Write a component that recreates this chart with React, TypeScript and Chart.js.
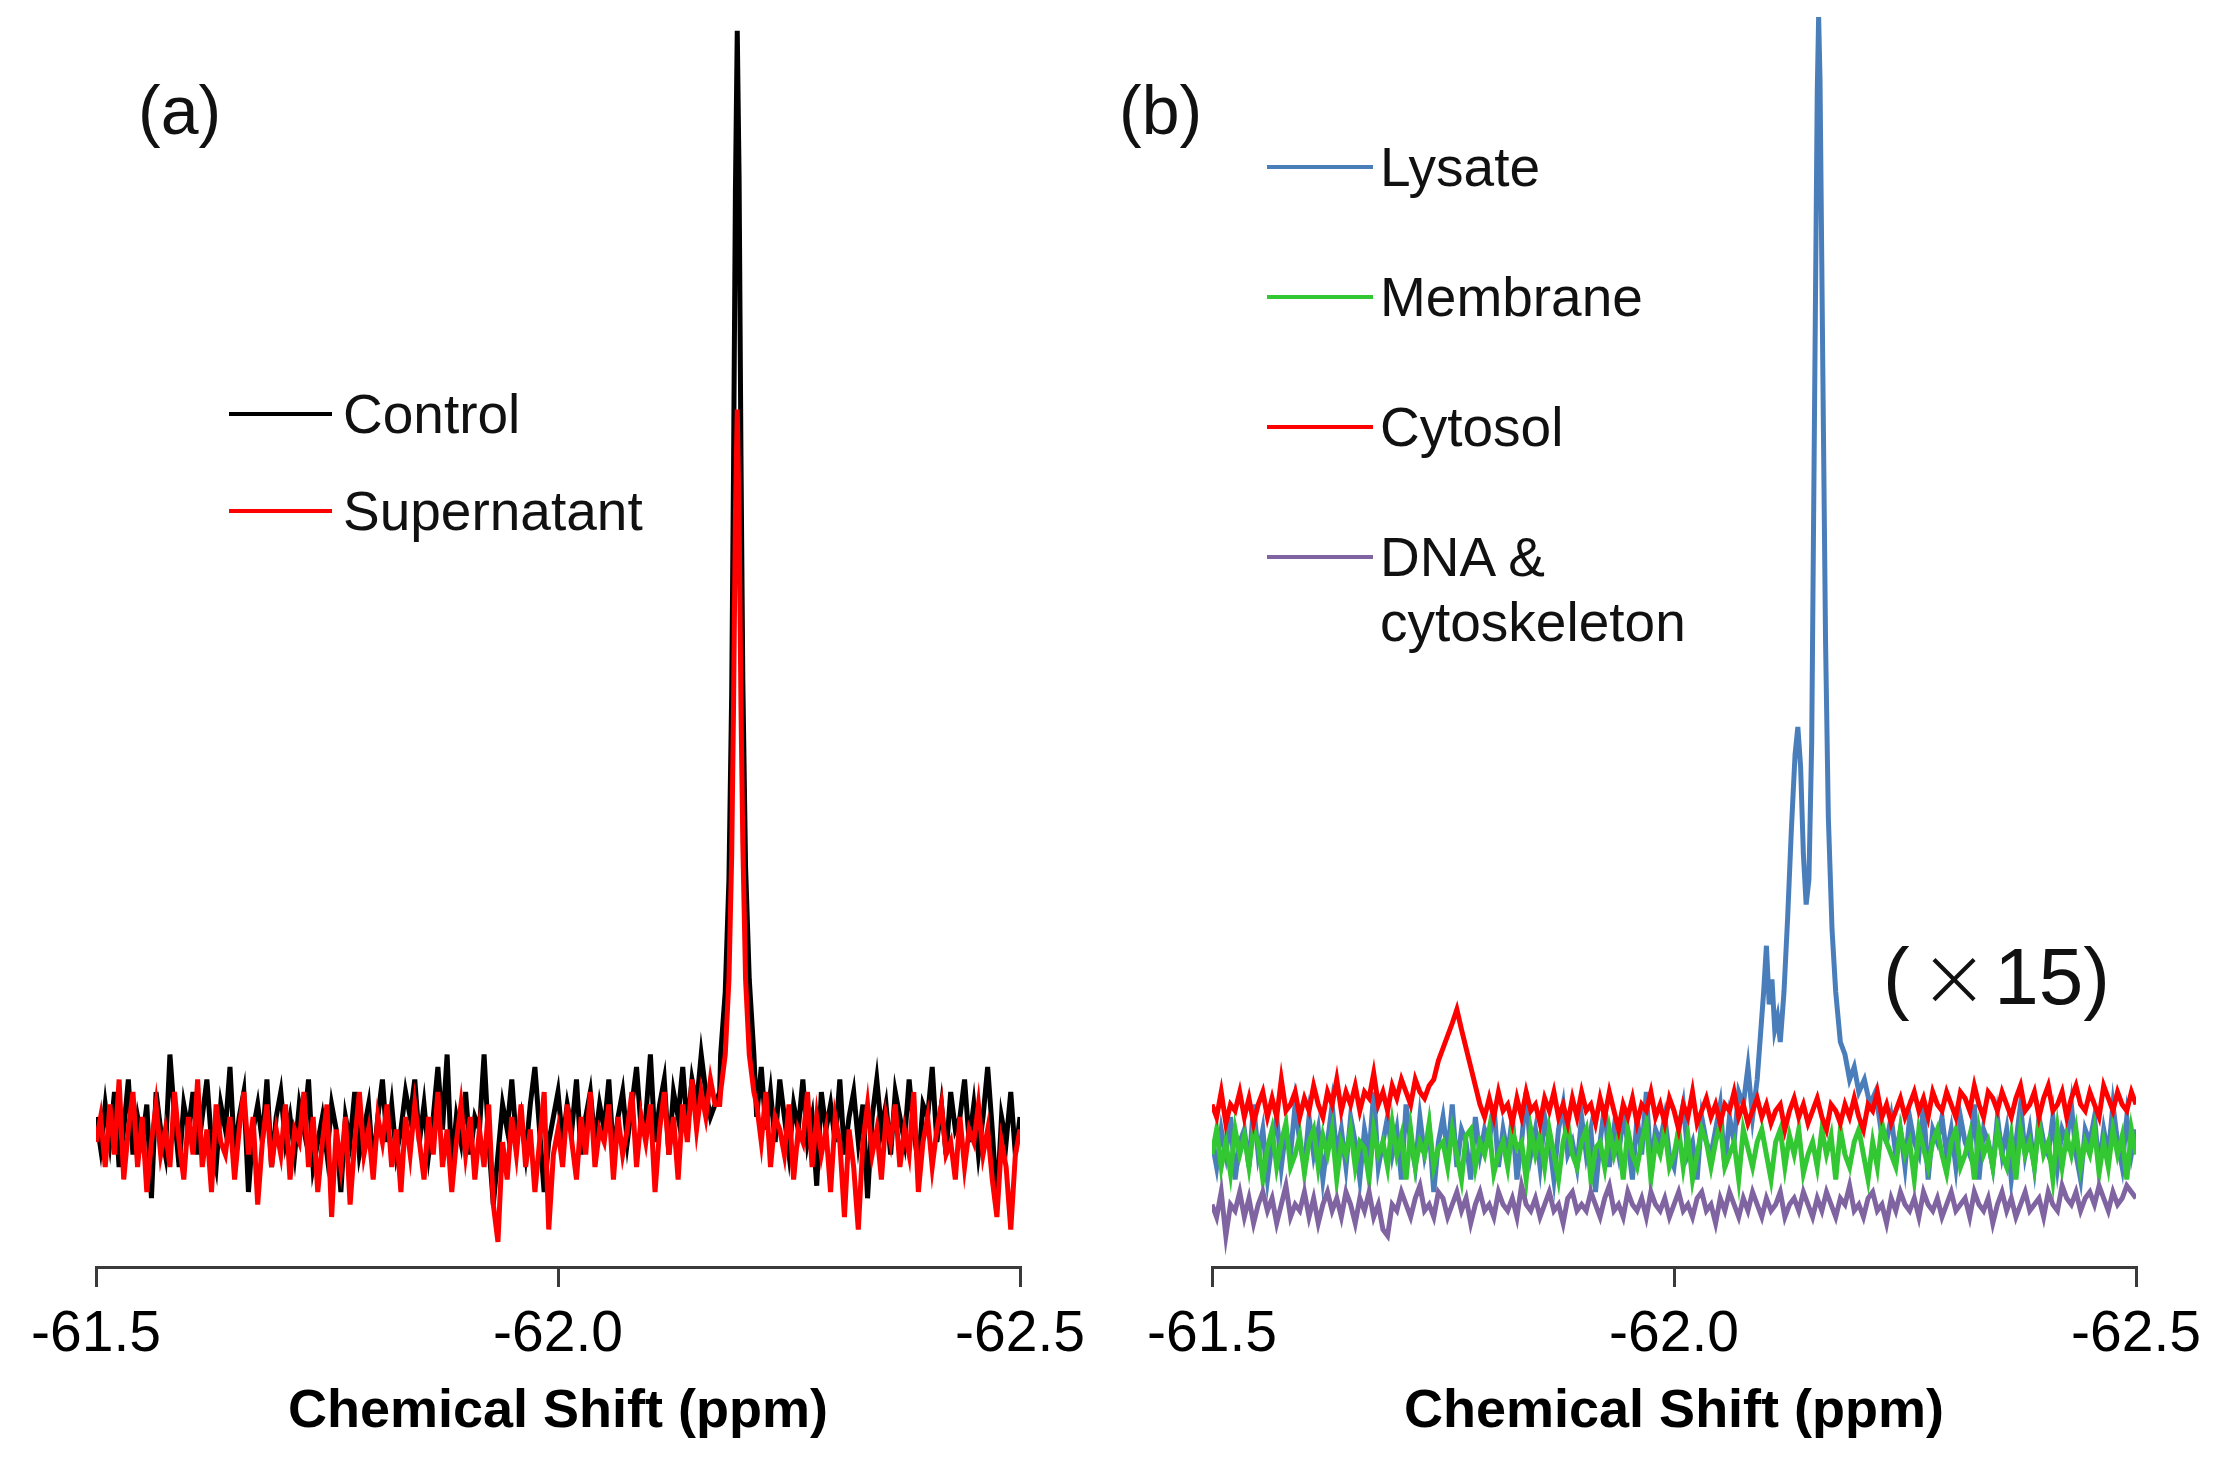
import React, { useEffect, useRef } from "react";
import { Chart, registerables } from "chart.js";
Chart.register(...registerables);

const FONT = "'Liberation Sans', Arial, sans-serif";

// x axis
const xTicks = [-61.5, -62.0, -62.5];
const gridStartPpm = -61.5;
const gridStepPpm = -0.005;

// ---------- Panel (a) ----------
const controlNoise = [
  12, 9.5, 13, 10, 14, 8, 11, 15, 9, 12,
  10, 13, 5.5, 14, 11, 9, 17, 12, 8, 13,
  11, 14, 9, 12, 15, 10, 8, 13, 11, 16,
  9, 12, 14, 6, 11, 13, 10, 15, 8, 12,
  14, 10, 12, 9, 13, 11, 15, 8, 10, 12,
  9, 13, 11, 6, 12, 10, 14, 9, 11, 13,
  8, 12, 15, 10, 13, 9, 11, 14, 12, 15,
  10, 13, 9, 12, 16, 11, 17, 8, 12, 10,
  14, 9, 12, 11, 17, 10, 5, 9, 13, 11,
  15, 10, 12, 9, 13, 16, 11, 6, 10, 12,
  14, 10, 13, 11, 15, 9, 12, 14, 10, 13,
  11, 15, 9, 12, 14, 10, 13, 16, 11, 12,
  17, 10, 13, 15, 9, 14, 12, 16, 11, 15,
  13, 17, 14, 12, 13, 14, 16, 18, 20, 18,
  16, 14, 13, 12, 16, 11, 14, 10, 15, 12,
  9, 13, 11, 15, 10, 12, 6.5, 14, 11, 13,
  10, 15, 9, 12, 14, 10, 13, 5.5, 12, 15,
  11, 13, 9, 14, 12, 10, 15, 11, 8, 13,
  12, 16, 10, 13, 9, 14, 11, 12, 15, 10,
  13, 9, 12, 16, 11, 5, 12, 10, 14, 9,
  12,
];
const supernatantNoise = [
  10, 12, 8, 13, 9, 15, 7, 11, 14, 8,
  12, 6, 10, 13, 9, 11, 8, 14, 10, 7,
  12, 9, 15, 8, 11, 6, 13, 10, 9, 12,
  7, 11, 14, 9, 12, 5, 10, 13, 8, 11,
  9, 13, 7, 11, 10, 14, 8, 12, 6, 10,
  13, 4, 11, 8, 12, 5, 10, 14, 9, 11,
  7, 12, 10, 13, 8, 11, 6, 12, 9, 13,
  10, 7, 12, 9, 14, 8, 11, 6, 10, 13,
  9, 12, 7, 11, 8, 13, 5, 2, 10, 7,
  12, 9, 13, 8, 11, 6, 10, 14, 3, 9,
  11, 8, 13, 10, 7, 12, 9, 14, 8, 11,
  10, 13, 7, 12, 9, 11, 14, 8, 12, 10,
  13, 6, 11, 14, 9, 12, 7, 13, 10, 15,
  11, 14, 12, 15, 13, 13, 16, 18, 20, 18,
  16, 14, 12, 13, 10, 14, 8, 12, 11, 9,
  13, 7, 11, 10, 14, 8, 12, 9, 11, 6,
  12, 10, 4, 11, 8, 3, 10, 13, 9, 11,
  7, 12, 10, 13, 8, 11, 9, 14, 6, 10,
  12, 8, 11, 13, 9, 10, 7, 12, 8, 11,
  10, 13, 9, 11, 7, 4, 10, 8, 3, 9,
  11,
];
const peakPpmA = [-62.176, -62.181, -62.185, -62.188, -62.19, -62.192, -62.194, -62.196, -62.198, -62.2, -62.203, -62.207, -62.212];
const controlPeakVal = [17, 22, 31, 46, 64, 86, 98.9, 87, 65, 47, 32, 23, 17];
const supernatantPeakVal = [14, 17, 23, 33, 45, 60, 68.6, 60, 45, 34, 23, 17, 14];

// ---------- Panel (b) ----------
const lysateNoise = [
  10, 8, 11, 9, 12, 7, 10, 11, 8, 13,
  9, 11, 7, 10, 12, 8, 11, 9, 13, 10,
  8, 12, 9, 11, 7, 10, 13, 9, 11, 8,
  12, 10, 7, 11, 9, 14, 8, 10, 12, 9,
  11, 7, 13, 10, 8, 12, 9, 11, 6, 10,
  12, 9, 13, 8, 11, 10, 7, 12, 9, 11,
  10, 13, 8, 11, 9, 12, 7, 10, 14, 9,
  11, 8, 12, 10, 7, 11, 13, 9, 10, 8,
  12, 9, 11, 6, 10, 13, 8, 11, 9, 12,
  10, 7, 12, 9, 14, 8, 11, 10, 12, 9,
  8, 11, 13, 9, 10, 7, 12, 10, 9, 11,
  13, 8, 12, 10, 14, 12, 11, 13, 10, 12,
  11, 13, 10, 12, 11, 14, 12, 11, 13, 12,
  10, 12, 11, 13, 10, 12, 11, 10, 12, 11,
  12, 10, 11, 13, 10, 11, 10, 12, 9, 11,
  8, 12, 10, 9, 13, 7, 11, 10, 12, 9,
  11, 8, 12, 10, 9, 13, 7, 11, 10, 8,
  12, 9, 11, 7, 10, 13, 9, 11, 8, 12,
  10, 9, 12, 8, 11, 10, 13, 9, 7, 11,
  10, 12, 8, 11, 9, 13, 10, 8, 12, 9,
  11,
];
const lysatePeakPpm = [
  -62.075, -62.08, -62.085, -62.09, -62.094, -62.097, -62.1, -62.103, -62.106, -62.109,
  -62.112, -62.115, -62.119, -62.123, -62.127, -62.131, -62.134, -62.137, -62.14, -62.143,
  -62.146, -62.149, -62.152, -62.155, -62.1565, -62.158, -62.161, -62.164, -62.167, -62.171,
  -62.175, -62.18, -62.185, -62.19, -62.195, -62.2, -62.206, -62.212, -62.218, -62.224, -62.23,
];
const lysatePeakVal = [
  13, 16, 12, 15, 19, 22, 25.7, 21, 23, 19,
  20, 18, 22, 28, 35, 41, 43.2, 40, 33, 29,
  31, 42, 68, 94, 100, 95, 72, 50, 36, 27,
  22, 18, 17, 15, 16, 14, 15, 13, 14, 11, 10,
];
const membraneNoise = [
  9, 11, 8, 10, 7.5, 11, 9, 10.5, 8, 11,
  10, 7, 9.5, 11, 8, 10, 11.5, 8, 9, 10.5,
  7.5, 10, 11, 8, 10.5, 9, 11, 7, 10, 9,
  11, 8, 10, 9.5, 7, 11, 9, 10, 8, 11.5,
  9, 10.5, 7, 11, 8, 10, 9, 11.5, 8, 9.5,
  10, 8, 11, 9, 7, 10.5, 11, 8, 10, 9,
  11, 7.5, 9, 10, 8, 11, 9.5, 10, 7, 11,
  9, 10.5, 8, 11, 9, 7, 10, 11.5, 9, 8,
  10, 11, 7, 9.5, 10, 8, 11, 9, 10.5, 7,
  11, 9, 8, 10, 11.5, 7, 10, 9, 11, 8,
  9, 11, 8, 10.5, 7, 9, 11, 10, 8, 10,
  11.5, 8, 9, 10, 7, 11, 9.5, 8, 10, 11,
  9, 7, 10, 11, 8, 10.5, 9, 11, 7.5, 9,
  10, 8, 11, 9, 10.5, 7, 11, 9, 8, 10,
  11, 9, 7, 10, 8, 11.5, 10, 9, 8, 11,
  9, 10, 7, 11, 9.5, 8, 10, 11, 9, 7.5,
  10, 11, 8, 9, 10.5, 7, 11, 9, 10, 8,
  11, 9, 8, 10.5, 7, 11, 9, 10, 8, 11.5,
  9, 10, 7, 11, 8, 10.5, 9, 11, 8, 10,
  9, 11, 7.5, 10, 8, 11, 9, 10.5, 7, 11,
  9,
];
const cytosolNoise = [
  13, 12, 14, 11.5, 13, 12.5, 14, 12, 13.5, 11.5,
  13, 14, 12, 13.5, 12, 15, 12.5, 13, 14, 12,
  13.5, 12.5, 14.5, 13, 12, 14, 13, 15, 12.5, 14,
  13, 14.5, 12.5, 14, 13.5, 15.5, 13, 14, 12.5, 14.5,
  13.5, 15, 14, 13, 15, 14, 13.5, 14.5, 15, 16.5,
  17.5, 18.5, 19.5, 20.6, 19, 17.5, 16, 14.5, 13, 12,
  13.5, 12, 14, 12.5, 13, 11.5, 13.5, 12, 14, 12.5,
  13, 11.5, 13.5, 12.5, 14, 12, 13, 11.5, 13.5, 12,
  14, 12.5, 13, 11.5, 13.5, 12, 14, 12.5, 11, 13,
  12, 13.5, 11.5, 13, 12.5, 14, 12, 13, 11.5, 13.5,
  12.5, 11, 13, 12, 14, 11.5, 12.5, 13.5, 12, 13,
  11.5, 13, 12.5, 14, 12, 13, 11.5, 12.5, 13.5, 12,
  13, 11.5, 12.5, 13, 11, 12.5, 13.5, 12, 13, 11.5,
  12.5, 13.5, 12, 11, 13, 12.5, 11.5, 13, 12, 13.5,
  12, 11, 13, 12.5, 14, 12, 13, 11.5, 12.5, 13.5,
  12, 13, 14, 12.5, 13.5, 12, 14, 13, 12.5, 14,
  13, 12, 14, 13.5, 12.5, 14.5, 13, 12, 14, 13.5,
  12.5, 14, 13, 12, 13.5, 14.5, 12.5, 13, 14, 12,
  13.5, 14.5, 12.5, 13, 14, 12, 13.5, 14.5, 13, 12.5,
  14, 13, 12, 14.5, 13.5, 12.5, 14, 13, 12.5, 14,
  13,
];
const dnaNoise = [
  5, 4, 6, 2.5, 5, 4.5, 6, 4, 5.5, 3.5,
  5, 6, 4.5, 5.5, 3.5, 5, 6.5, 4, 5, 4.5,
  6, 4, 5.5, 3.5, 5, 6, 4.5, 5.5, 4, 6,
  5, 3.5, 5.5, 4.5, 6, 4, 5, 3, 2.5, 5,
  4.5, 6, 5, 4, 5.5, 6.5, 4.5, 5, 4, 6,
  5.5, 4, 5, 6, 4.5, 5.5, 3.5, 5, 6, 4.5,
  5, 4, 6, 5, 4.5, 5.5, 4, 6.5, 5, 4.5,
  5.5, 4, 5, 6, 4.5, 5, 3.5, 5.5, 6, 4.5,
  5, 4.5, 6, 5, 4, 5.5, 6.5, 4.5, 5, 4,
  6, 5, 4.5, 5.5, 4, 6, 5, 4.5, 5.5, 4,
  5, 6, 4.5, 5, 4, 5.5, 6, 4.5, 5, 3.5,
  5.5, 4.5, 6, 5, 4, 5.5, 4.5, 6, 5, 4,
  5.5, 4.5, 5, 6, 4, 5, 5.5, 4.5, 6, 5,
  4, 5.5, 4.5, 6, 5, 4, 5.5, 5, 6.5, 4.5,
  5, 4, 5.5, 6, 4.5, 5, 3.5, 5.5, 4.5, 6,
  5, 4.5, 5.5, 4, 6, 5, 4.5, 5.5, 4, 5,
  6, 4.5, 5, 5.5, 4, 6, 5, 4.5, 5.5, 3.5,
  5, 6, 4.5, 5.5, 4, 5, 6, 4.5, 5, 5.5,
  4, 6, 5, 4.5, 6.5, 5.5, 5, 6, 4.5, 5.5,
  6, 5, 6.5, 5.5, 4.5, 6, 5, 5.5, 6.5, 6,
  5.5,
];

type Pt = { x: number; y: number };
function buildSeries(noise: number[], peakPpm: number[] = [], peakVal: number[] = []): Pt[] {
  const pts = noise.map((v, i) => ({ x: +(gridStartPpm + gridStepPpm * i).toFixed(4), y: v }));
  if (!peakPpm.length) return pts;
  const hi = Math.max(...peakPpm);
  const lo = Math.min(...peakPpm);
  const kept = pts.filter((p) => p.x > hi || p.x < lo);
  const peak = peakPpm.map((x, i) => ({ x, y: peakVal[i] }));
  return [...kept, ...peak].sort((a, b) => b.x - a.x);
}

type Series = { label: string; data: Pt[]; color: string; order: number };

function SpectrumPanel(props: { left: number; width: number; padLeft: number; padRight: number; series: Series[] }) {
  const ref = useRef<HTMLCanvasElement | null>(null);
  useEffect(() => {
    const chart = new Chart(ref.current as HTMLCanvasElement, {
      type: "line",
      data: {
        datasets: props.series.map((s) => ({
          label: s.label,
          data: s.data,
          borderColor: s.color,
          backgroundColor: s.color,
          borderWidth: 5,
          borderJoinStyle: "miter",
          pointRadius: 0,
          tension: 0,
          fill: false,
          order: s.order,
        })),
      },
      options: {
        responsive: false,
        animation: false,
        events: [],
        layout: { padding: { left: props.padLeft, right: props.padRight, top: 17, bottom: 0 } },
        plugins: { legend: { display: false }, tooltip: { enabled: false } },
        scales: {
          x: {
            type: "linear",
            min: -62.5,
            max: -61.5,
            reverse: true,
            afterBuildTicks: (s: any) => {
              s.ticks = xTicks.map((v) => ({ value: v }));
            },
            afterFit: (s: any) => {
              s.height = 195;
            },
            ticks: {
              autoSkip: false,
              maxRotation: 0,
              padding: 14,
              color: "#000",
              font: { family: FONT, size: 57 },
              callback: (v: any) => Number(v).toFixed(1),
            },
            grid: { drawOnChartArea: false, drawTicks: true, tickLength: 20, color: "#3a3a3a", lineWidth: 3 },
            border: { display: true, color: "#3a3a3a", width: 3 },
            title: {
              display: true,
              text: "Chemical Shift (ppm)",
              color: "#000",
              font: { family: FONT, size: 54, weight: "bold" },
              padding: { top: 0, bottom: 17 },
            },
          },
          y: { display: false, min: 0, max: 100 },
        },
      } as any,
    });
    return () => chart.destroy();
  }, []);
  return (
    <canvas
      ref={ref}
      width={props.width}
      height={1462}
      style={{ position: "absolute", left: props.left, top: 0, width: props.width, height: 1462 }}
    />
  );
}

function Text(props: { x: number; cy: number; size: number; children: any; style?: any }) {
  return (
    <div
      style={{
        position: "absolute",
        left: props.x,
        top: props.cy - 0.5 * props.size,
        fontSize: props.size,
        lineHeight: 1,
        whiteSpace: "nowrap",
        color: "#111",
        fontFamily: FONT,
        ...(props.style || {}),
      }}
    >
      {props.children}
    </div>
  );
}

function LegendLine(props: { x: number; cy: number; w: number; color: string; t: number }) {
  return (
    <div
      style={{
        position: "absolute",
        left: props.x,
        top: props.cy - props.t / 2,
        width: props.w,
        height: props.t,
        background: props.color,
      }}
    />
  );
}

const COLORS = {
  control: "#000000",
  supernatant: "#FF0000",
  lysate: "#4A7EBB",
  membrane: "#33C733",
  cytosol: "#FF0000",
  dna: "#8064A2",
};

export default function App() {
  const seriesA: Series[] = [
    { label: "Control", data: buildSeries(controlNoise, peakPpmA, controlPeakVal), color: COLORS.control, order: 2 },
    { label: "Supernatant", data: buildSeries(supernatantNoise, peakPpmA, supernatantPeakVal), color: COLORS.supernatant, order: 1 },
  ];
  const seriesB: Series[] = [
    { label: "Lysate", data: buildSeries(lysateNoise, lysatePeakPpm, lysatePeakVal), color: COLORS.lysate, order: 4 },
    { label: "Membrane", data: buildSeries(membraneNoise), color: COLORS.membrane, order: 3 },
    { label: "Cytosol", data: buildSeries(cytosolNoise), color: COLORS.cytosol, order: 2 },
    { label: "DNA & cytoskeleton", data: buildSeries(dnaNoise), color: COLORS.dna, order: 1 },
  ];
  return (
    <div style={{ position: "absolute", left: 0, top: 0, width: 2215, height: 1462, background: "#fff", overflow: "hidden" }}>
      <SpectrumPanel left={0} width={1107} padLeft={96} padRight={87} series={seriesA} />
      <SpectrumPanel left={1107} width={1108} padLeft={105} padRight={74} series={seriesB} />

      <Text x={138} cy={110} size={68}>(a)</Text>
      <Text x={1119} cy={110} size={68}>(b)</Text>

      <LegendLine x={229} cy={414} w={103} color={COLORS.control} t={4} />
      <Text x={343} cy={414} size={55}>Control</Text>
      <LegendLine x={229} cy={511} w={103} color={COLORS.supernatant} t={4} />
      <Text x={343} cy={511} size={55}>Supernatant</Text>

      <LegendLine x={1267} cy={167} w={106} color={COLORS.lysate} t={4} />
      <Text x={1380} cy={167} size={55}>Lysate</Text>
      <LegendLine x={1267} cy={297} w={106} color={COLORS.membrane} t={4} />
      <Text x={1380} cy={297} size={55}>Membrane</Text>
      <LegendLine x={1267} cy={427} w={106} color={COLORS.cytosol} t={4} />
      <Text x={1380} cy={427} size={55}>Cytosol</Text>
      <LegendLine x={1267} cy={557} w={106} color={COLORS.dna} t={4} />
      <Text x={1380} cy={557} size={55}>DNA &amp;</Text>
      <Text x={1380} cy={622} size={55}>cytoskeleton</Text>

      <Text x={1883} cy={962} size={80}>
        (
        <span
          style={{
            fontFamily: "Inter, 'DejaVu Sans', sans-serif",
            fontWeight: 200,
            fontSize: 100,
            display: "inline-block",
            margin: "0 8px 0 12px",
            verticalAlign: "-4px",
          }}
        >
          ×
        </span>
        15)
      </Text>
    </div>
  );
}
